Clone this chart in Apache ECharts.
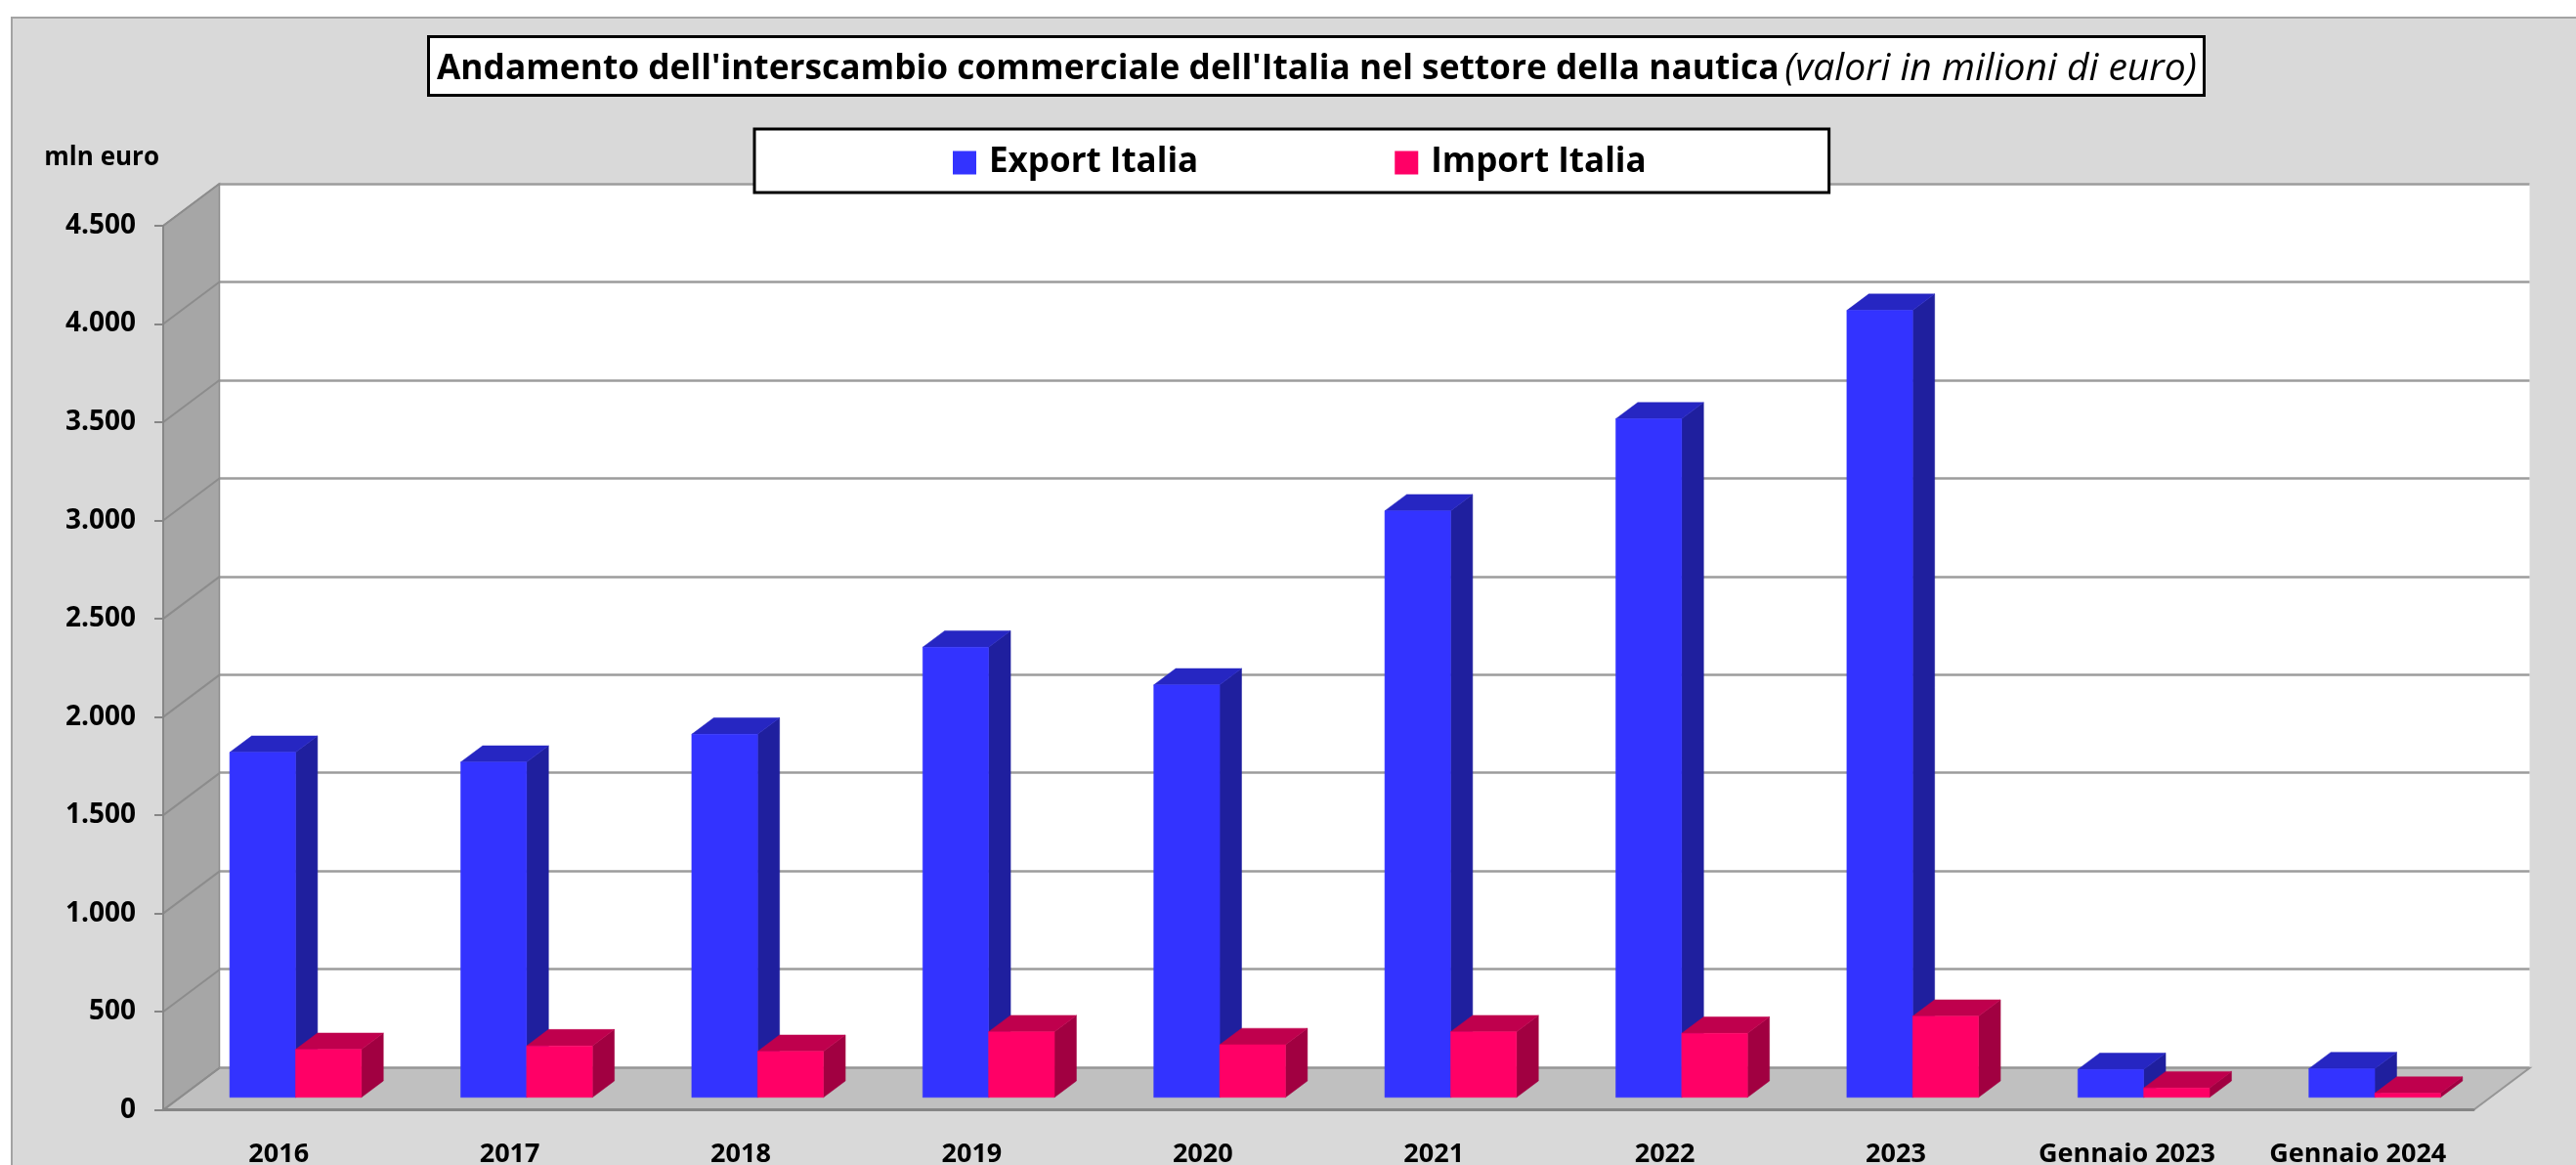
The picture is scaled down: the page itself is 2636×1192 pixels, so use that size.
<!DOCTYPE html>
<html>
<head>
<meta charset="utf-8">
<style>
  html, body { margin: 0; padding: 0; background: #fff; }
  #chart { width: 2636px; height: 1192px; }
</style>
<script src="https://cdn.jsdelivr.net/npm/echarts@6/dist/echarts.min.js"></script>
</head>
<body>
<div id="chart"></div>
<script>
const categories = ['2016', '2017', '2018', '2019', '2020', '2021', '2022', '2023', 'Gennaio 2023', 'Gennaio 2024']
const exportItalia = [1756, 1706, 1848, 2291, 2099, 2985, 3453, 4005, 142, 146]
const importItalia = [244, 262, 234, 334, 268, 334, 326, 413, 48, 21]
const yTicks = [0, 500, 1000, 1500, 2000, 2500, 3000, 3500, 4000, 4500]
const tickLabels = ['0', '500', '1.000', '1.500', '2.000', '2.500', '3.000', '3.500', '4.000', '4.500']

const FONT = 'Open Sans'
// finto 3D: profondita' della scena in pixel
const DEPTH_X = 57.5
const DEPTH_Y = 43
const BAR_WIDTH = 0.285 // quota della categoria
const BAR_FRONT = 0.3 // distanza del fronte barra dal bordo, quota della profondita'
const BAR_DEPTH = 0.39

function poly (points, fill) {
  return { type: 'polygon', shape: { points }, style: { fill, stroke: fill, lineWidth: 0.5 } }
}

function barRenderer (side, front, top, flank) {
  return (params, api) => {
    const base = api.coord([api.value(0), 0])
    const head = api.coord([api.value(0), api.value(1)])
    const w = api.size([1, 0])[0] * BAR_WIDTH
    const ox = DEPTH_X * BAR_FRONT
    const oy = DEPTH_Y * BAR_FRONT
    const x0 = base[0] + ox + (side < 0 ? -w : 0)
    const x1 = x0 + w
    const y0 = base[1] - oy
    const y1 = head[1] - oy
    const dx = DEPTH_X * BAR_DEPTH
    const dy = DEPTH_Y * BAR_DEPTH
    return {
      type: 'group',
      children: [
        poly([[x1, y0], [x1 + dx, y0 - dy], [x1 + dx, y1 - dy], [x1, y1]], flank),
        poly([[x0, y1], [x0 + dx, y1 - dy], [x1 + dx, y1 - dy], [x1, y1]], top),
        poly([[x0, y0], [x1, y0], [x1, y1], [x0, y1]], front)
      ]
    }
  }
}

function wallRenderer (params, api) {
  const c = params.coordSys
  const left = c.x
  const right = c.x + c.width
  const zero = c.y + c.height
  const top = c.y
  const y = api.coord([0, api.value(1)])[1]
  const children = []
  if (params.dataIndex === 0) {
    children.push({
      type: 'polygon',
      shape: { points: [[left, zero], [left + DEPTH_X, zero - DEPTH_Y], [left + DEPTH_X, top - DEPTH_Y], [left, top]] },
      style: { fill: '#a6a6a6', stroke: '#8c8c8c', lineWidth: 1.5 }
    })
    children.push({
      type: 'polygon',
      shape: { points: [[left, zero], [left + DEPTH_X, zero - DEPTH_Y], [right + DEPTH_X, zero - DEPTH_Y], [right, zero]] },
      style: { fill: '#c0c0c0', stroke: '#969696', lineWidth: 2 }
    })
  }
  children.push({
    type: 'line',
    shape: { x1: left, y1: y, x2: left + DEPTH_X, y2: y - DEPTH_Y },
    style: { stroke: '#8c8c8c', lineWidth: 2 }
  })
  return { type: 'group', children }
}

const myChart = echarts.init(document.getElementById('chart'))
myChart.setOption({
  animation: false,
  backgroundColor: '#fff',
  textStyle: { fontFamily: FONT },
  graphic: [{
    type: 'rect',
    z: -10,
    shape: { x: 12, y: 18, width: 2700, height: 1300 },
    style: { fill: '#d9d9d9', stroke: '#a3a3a3', lineWidth: 2 }
  }],
  title: {
    left: 438,
    top: 37,
    padding: [14, 8, 8, 9],
    backgroundColor: '#fff',
    borderColor: '#000',
    borderWidth: 3,
    text: "{b|Andamento dell'interscambio commerciale dell'Italia nel settore della nautica} {i|(valori in milioni di euro)}",
    textStyle: {
      rich: {
        b: { fontFamily: FONT, fontSize: 35.3, fontWeight: 'bold', color: '#000' },
        i: { fontFamily: FONT, fontSize: 39, fontWeight: 'normal', fontStyle: 'italic', color: '#000', padding: [0, 0, 0, 1] }
      }
    }
  },
  legend: {
    left: 772,
    top: 132,
    data: ['Export Italia', 'Import Italia'],
    icon: 'rect',
    itemWidth: 24,
    itemHeight: 24,
    itemGap: 201,
    padding: [17, 187, 13, 203],
    backgroundColor: '#fff',
    borderColor: '#000',
    borderWidth: 3,
    textStyle: { fontFamily: FONT, fontSize: 35, fontWeight: 'bold', color: '#000', padding: [2, 0, 0, 8] }
  },
  grid: [
    { left: 167, right: 105, top: 231, height: 904.7, containLabel: false, outerBoundsMode: 'none' },
    { left: 224.5, right: 47.5, top: 188, height: 904, show: true, backgroundColor: '#fff', borderWidth: 0, outerBoundsMode: 'none' }
  ],
  xAxis: [
    {
      type: 'category',
      gridIndex: 0,
      data: categories,
      z: 3,
      axisLine: { lineStyle: { color: '#868686', width: 3 } },
      axisTick: { show: false },
      axisLabel: { interval: 0, margin: 32, color: '#000', fontFamily: FONT, fontWeight: 'bold', fontSize: 27 }
    },
    { type: 'category', gridIndex: 1, data: categories, show: false }
  ],
  yAxis: [
    {
      type: 'value',
      gridIndex: 0,
      min: 0,
      max: 4500,
      interval: 500,
      z: 3,
      name: 'mln euro',
      nameGap: 56,
      nameTextStyle: { align: 'right', padding: [0, 4, 0, 0], color: '#000', fontFamily: FONT, fontWeight: 'bold', fontSize: 26 },
      axisLine: { show: true, lineStyle: { color: '#868686', width: 2 } },
      axisTick: { show: true, length: 9, lineStyle: { color: '#868686', width: 2 } },
      splitLine: { show: false },
      axisLabel: {
        margin: 28,
        color: '#000',
        fontFamily: FONT,
        fontWeight: 'bold',
        fontSize: 28,
        padding: [8, 0, 0, 0],
        formatter: (value, index) => tickLabels[index]
      }
    },
    {
      type: 'value',
      gridIndex: 1,
      min: 0,
      max: 4500,
      interval: 500,
      axisLine: { show: false },
      axisTick: { show: false },
      axisLabel: { show: false },
      splitLine: { show: true, lineStyle: { color: '#9c9c9c', width: 2.5 } }
    }
  ],
  series: [
    {
      name: 'pareti',
      type: 'custom',
      z: 1,
      silent: true,
      clip: false,
      xAxisIndex: 0,
      yAxisIndex: 0,
      encode: { x: 0, y: 1 },
      data: yTicks.map(v => [0, v]),
      renderItem: wallRenderer
    },
    {
      name: 'Export Italia',
      type: 'custom',
      z: 2,
      clip: false,
      xAxisIndex: 0,
      yAxisIndex: 0,
      encode: { x: 0, y: 1 },
      itemStyle: { color: '#3333ff' },
      data: exportItalia.map((v, i) => [i, v]),
      renderItem: barRenderer(-1, '#3333ff', '#2626c2', '#1f1f9e')
    },
    {
      name: 'Import Italia',
      type: 'custom',
      z: 2,
      clip: false,
      xAxisIndex: 0,
      yAxisIndex: 0,
      encode: { x: 0, y: 1 },
      itemStyle: { color: '#ff0066' },
      data: importItalia.map((v, i) => [i, v]),
      renderItem: barRenderer(1, '#ff0066', '#bf004d', '#a10041')
    }
  ]
})
</script>
</body>
</html>
